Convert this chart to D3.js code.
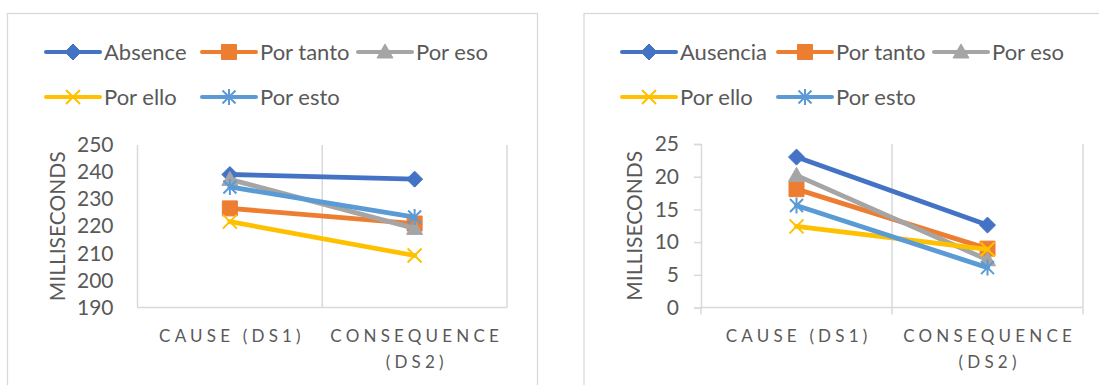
<!DOCTYPE html>
<html>
<head>
<meta charset="utf-8">
<script src="https://cdn.jsdelivr.net/npm/d3@7"></script>
<style>
  html, body { margin: 0; padding: 0; background: #fff; }
  svg { display: block; }
  text { font-family: Lato, "Open Sans", sans-serif; fill: #595959; }
</style>
</head>
<body>
<svg id="chart" width="1099" height="385"></svg>
<script>
// Category axis (second label wraps onto two lines)
const categories = ["CAUSE (DS1)", "CONSEQUENCE (DS2)"];
const categoryLines = [["CAUSE (DS1)"], ["CONSEQUENCE", "(DS2)"]];

// Series names for the two panels
const namesLeft = ["Absence", "Por tanto", "Por eso", "Por ello", "Por esto"];
const namesRight = ["Ausencia", "Por tanto", "Por eso", "Por ello", "Por esto"];
const seriesColors = ["#4472C4", "#ED7D31", "#A5A5A5", "#FFC000", "#5B9BD5"];
const seriesMarkers = ["diamond", "square", "triangle", "x", "asterisk"];

// Left panel values (ms)
const absenceLeft = [239.1, 237.4];
const porTantoLeft = [226.6, 221.0];
const porEsoLeft = [237.3, 219.2];
const porElloLeft = [221.7, 209.2];
const porEstoLeft = [234.5, 223.4];

// Right panel values (ms)
const ausenciaRight = [23.0, 12.6];
const porTantoRight = [18.1, 9.0];
const porEsoRight = [20.2, 7.3];
const porElloRight = [12.4, 8.9];
const porEstoRight = [15.6, 6.1];

// Value-axis ticks
const ticksLeft = [190, 200, 210, 220, 230, 240, 250];
const ticksRight = [0, 5, 10, 15, 20, 25];

const svg = d3.select("#chart");
const GRID = "#d9d9d9";
const LABEL_SPACING = 4.2;

function markerPath(type) {
  const p = d3.path();
  if (type === "diamond") {
    p.moveTo(0, -8); p.lineTo(8, 0); p.lineTo(0, 8); p.lineTo(-8, 0); p.closePath();
  } else if (type === "square") {
    p.rect(-7.5, -7.5, 15, 15);
  } else if (type === "triangle") {
    p.moveTo(0, -8); p.lineTo(8, 6); p.lineTo(-8, 6); p.closePath();
  } else if (type === "x") {
    p.moveTo(-7, -7); p.lineTo(7, 7); p.moveTo(7, -7); p.lineTo(-7, 7);
  } else if (type === "asterisk") {
    p.moveTo(-6.5, -6.5); p.lineTo(6.5, 6.5); p.moveTo(6.5, -6.5); p.lineTo(-6.5, 6.5);
    p.moveTo(0, -8); p.lineTo(0, 8);
  }
  return p.toString();
}

function drawMarker(g, type, color, x, y) {
  const filled = type === "diamond" || type === "square" || type === "triangle";
  g.append("path")
    .attr("d", markerPath(type))
    .attr("transform", `translate(${x},${y})`)
    .attr("fill", filled ? color : "none")
    .attr("stroke", color)
    .attr("stroke-width", filled ? 1 : 2);
}

function drawPanel(cfg) {
  const g = svg.append("g");

  // chart frame
  g.append("rect")
    .attr("x", cfg.frame.x).attr("y", cfg.frame.y)
    .attr("width", cfg.frame.w).attr("height", cfg.frame.h)
    .attr("fill", "#fff").attr("stroke", GRID).attr("stroke-width", 1.3);

  // legend: three entries per row
  cfg.names.forEach((name, i) => {
    const col = i % 3, row = Math.floor(i / 3);
    const lx = cfg.legendX + col * 156;
    const ly = cfg.legendY + row * 45;
    const lg = g.append("g");
    lg.append("line")
      .attr("x1", lx).attr("x2", lx + 54).attr("y1", ly).attr("y2", ly)
      .attr("stroke", seriesColors[i]).attr("stroke-width", 4)
      .attr("stroke-linecap", "round");
    drawMarker(lg, seriesMarkers[i], seriesColors[i], lx + 27, ly);
    lg.append("text")
      .attr("x", lx + 58).attr("y", ly)
      .attr("dy", "0.36em")
      .style("font-size", "22px")
      .text(name);
  });

  const x = d3.scaleBand().domain(categories).range([cfg.plot.left, cfg.plot.right]).padding(0);
  const y = d3.scaleLinear().domain(cfg.domain).range([cfg.plot.bottom, cfg.plot.top]);

  // vertical gridlines at category boundaries
  const bounds = [cfg.plot.left, cfg.plot.left + x.step(), cfg.plot.right];
  bounds.forEach((bx, i) => {
    if (cfg.yAxisLine && i === 0) return;
    g.append("line")
      .attr("x1", bx).attr("x2", bx)
      .attr("y1", y(cfg.domain[1])).attr("y2", cfg.plot.bottom)
      .attr("stroke", GRID).attr("stroke-width", 1.5);
  });

  // category axis line + optional ticks
  g.append("line")
    .attr("x1", cfg.plot.left).attr("x2", cfg.plot.right)
    .attr("y1", cfg.plot.bottom).attr("y2", cfg.plot.bottom)
    .attr("stroke", GRID).attr("stroke-width", 1.5);
  if (cfg.tickLen) {
    bounds.forEach(bx => {
      g.append("line")
        .attr("x1", bx).attr("x2", bx)
        .attr("y1", cfg.plot.bottom).attr("y2", cfg.plot.bottom + cfg.tickLen)
        .attr("stroke", GRID).attr("stroke-width", 1.5);
    });
  }

  // value axis
  const yAxis = d3.axisLeft(y).tickValues(cfg.ticks)
    .tickSize(cfg.tickLen || 0).tickPadding(cfg.tickPad);
  const ya = g.append("g")
    .attr("transform", `translate(${cfg.plot.left},0)`)
    .call(yAxis);
  ya.select(".domain").attr("stroke", cfg.yAxisLine ? GRID : "none").attr("stroke-width", 1.5);
  ya.selectAll(".tick line").attr("stroke", GRID).attr("stroke-width", 1.5);
  ya.selectAll(".tick text")
    .attr("fill", "#595959")
    .style("font-family", "Lato, 'Open Sans', sans-serif")
    .style("font-size", "21px");

  // value axis title
  g.append("text")
    .attr("transform", `translate(${cfg.titleX},${(cfg.plot.top + cfg.plot.bottom) / 2}) rotate(-90)`)
    .attr("text-anchor", "middle")
    .attr("dy", "0.36em")
    .style("font-size", "21px")
    .text("MILLISECONDS");

  // category labels
  categories.forEach((c, i) => {
    const cx = x(c) + x.bandwidth() / 2;
    categoryLines[i].forEach((ln, j) => {
      g.append("text")
        .attr("x", cx + LABEL_SPACING / 2).attr("y", 342 + j * 26)
        .attr("text-anchor", "middle")
        .style("font-size", "17px")
        .style("letter-spacing", LABEL_SPACING + "px")
        .text(ln);
    });
  });

  // series lines then markers, in series order
  cfg.series.forEach((vals, i) => {
    const sg = g.append("g");
    const line = d3.line()
      .x((d, k) => x(categories[k]) + x.bandwidth() / 2)
      .y(d => y(d));
    sg.append("path")
      .attr("d", line(vals))
      .attr("fill", "none")
      .attr("stroke", seriesColors[i])
      .attr("stroke-width", 4.8)
      .attr("stroke-linecap", "round");
    vals.forEach((v, k) => {
      drawMarker(sg, seriesMarkers[i], seriesColors[i],
        x(categories[k]) + x.bandwidth() / 2, y(v));
    });
  });
}

drawPanel({
  frame: { x: 7.5, y: 13.5, w: 530, h: 400 },
  legendX: 46, legendY: 52,
  names: namesLeft,
  plot: { left: 137.5, right: 507, top: 145, bottom: 307.5 },
  domain: [190, 250],
  ticks: ticksLeft,
  tickLen: 0, tickPad: 24,
  yAxisLine: false,
  titleX: 57,
  series: [absenceLeft, porTantoLeft, porEsoLeft, porElloLeft, porEstoLeft]
});

drawPanel({
  frame: { x: 584, y: 13.5, w: 540, h: 400 },
  legendX: 622, legendY: 52,
  names: namesRight,
  plot: { left: 701, right: 1083, top: 144, bottom: 307.5 },
  domain: [0, 25],
  ticks: ticksRight,
  tickLen: 7, tickPad: 15,
  yAxisLine: true,
  titleX: 634,
  series: [ausenciaRight, porTantoRight, porEsoRight, porElloRight, porEstoRight]
});
</script>
</body>
</html>
